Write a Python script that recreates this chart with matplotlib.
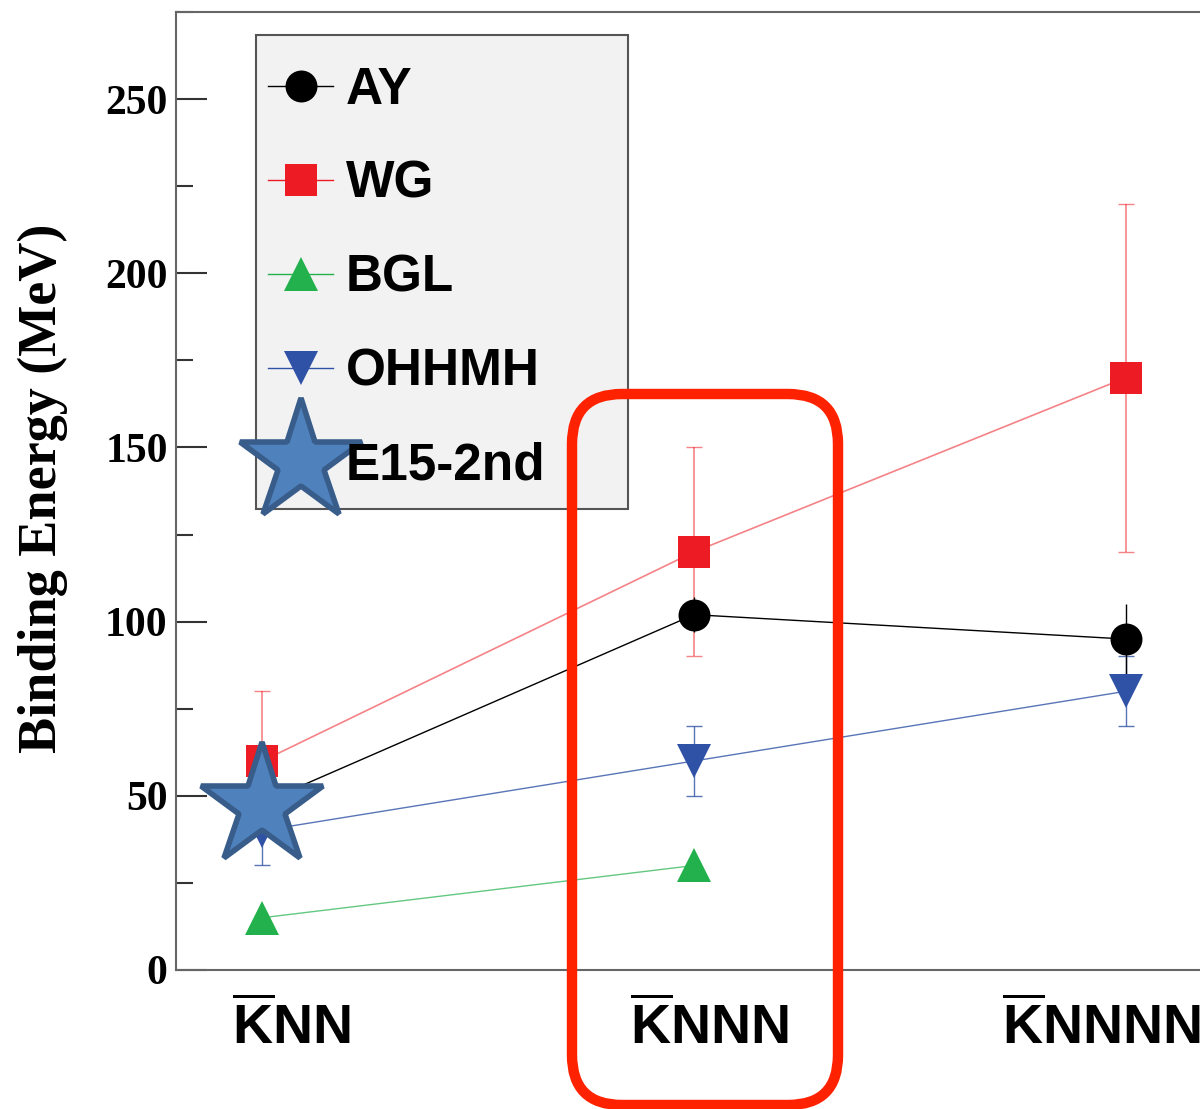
import numpy as np
import matplotlib
matplotlib.use("Agg")
import matplotlib.pyplot as plt
from matplotlib.lines import Line2D
from matplotlib.patches import FancyBboxPatch, Rectangle
from matplotlib.transforms import IdentityTransform, blended_transform_factory

plt.rcParams['mathtext.fontset'] = 'custom'
plt.rcParams['mathtext.bf'] = 'Liberation Sans:bold'
plt.rcParams['mathtext.rm'] = 'Liberation Sans'

# ---------------- data ----------------
categories = [r'$\overline{\mathbf{K}}\mathbf{NN}$',
              r'$\overline{\mathbf{K}}\mathbf{NNN}$',
              r'$\overline{\mathbf{K}}\mathbf{NNNN}$']
label_offsets = [0.068, 0.035, -0.056]  # label shift relative to category (data units)

ay = [48, 102, 95]
ay_err = [0, 5, 10]
wg = [60, 120, 170]
wg_err = [20, 30, 50]
bgl = [15, 30, np.nan]
ohhmh = [40, 60, 80]
ohhmh_err = [10, 10, 10]
e15 = [47]

yticks = [0, 50, 100, 150, 200, 250]
ylabel = 'Binding Energy (MeV)'
legend_labels = ['AY', 'WG', 'BGL', 'OHHMH', 'E15-2nd']

# ---------------- styles ----------------
c_ay = '#000000'
c_wg = '#ed1c24'
c_bgl = '#22b14c'
c_oh = '#2f52a6'
c_star = '#4f81bd'
c_star_edge = '#385d8a'

W, H = 1200, 1109
fig = plt.figure(figsize=(W / 100, H / 100), dpi=100)
ax = fig.add_axes([176 / W, (H - 970) / H, (1215 - 176) / W, (970 - 12) / H])

x = np.arange(len(categories))

ms = 23
ax.errorbar(x, ay, yerr=ay_err, color=c_ay, lw=1, marker='o', ms=ms, mew=0,
            elinewidth=1, capsize=6, zorder=5, alpha=1)
ax.plot(x, wg, color=c_wg, lw=1.2, alpha=0.55, zorder=4)
ax.errorbar(x, wg, yerr=wg_err, fmt='none', ecolor=c_wg, elinewidth=1.2,
            capsize=6, alpha=0.55, zorder=4)
ax.plot(x, wg, ls='none', marker='s', ms=23, mew=0, color=c_wg, zorder=6)
ax.plot(x, bgl, color=c_bgl, lw=1, alpha=0.7, zorder=4)
ax.plot(x, bgl, ls='none', marker='^', ms=25, mew=0, color=c_bgl, zorder=6)
ax.plot(x, ohhmh, color=c_oh, lw=1, alpha=0.8, zorder=4)
ax.errorbar(x, ohhmh, yerr=ohhmh_err, fmt='none', ecolor=c_oh, elinewidth=1,
            capsize=6, alpha=0.8, zorder=4)
ax.plot(x, ohhmh, ls='none', marker='v', ms=25, mew=0, color=c_oh, zorder=6)
ax.plot(x[:1], e15, ls='none', marker='*', ms=92, mfc=c_star, mec=c_star_edge,
        mew=4, zorder=10)

ax.set_ylim(0, 275)
ax.set_xlim(-0.2, 2.207)
ax.set_yticks(yticks)
ax.set_yticks([25, 75, 125, 175, 225, 275], minor=True)
ax.set_yticklabels([str(v) for v in yticks], fontfamily='Liberation Serif',
                   fontweight='bold', fontsize=30)
ax.tick_params(axis='y', which='major', direction='in', length=22, width=1.5,
               color='#333333', pad=6)
ax.tick_params(axis='y', which='minor', direction='in', length=12, width=1.5,
               color='#333333')
ax.set_xticks([])
for s in ax.spines.values():
    s.set_color('#666666')
    s.set_linewidth(1.5)

ax.set_ylabel(ylabel, fontfamily='Liberation Serif', fontweight='bold',
              fontsize=39)
ax.yaxis.set_label_coords(-0.104, 0.503)

trans = blended_transform_factory(ax.transData, ax.transAxes)
for xi, lab, off in zip(x, categories, label_offsets):
    ax.text(xi + off, -0.032, lab, transform=trans, ha='center', va='top',
            fontsize=40, color='black')

# legend frame (pixel coordinates)
frame = Rectangle((256, H - 509), 628 - 256, 509 - 35, transform=IdentityTransform(),
                  facecolor='#f2f2f2', edgecolor='#555555', linewidth=1.5,
                  zorder=7, clip_on=False)
ax.add_patch(frame)

handles = [
    Line2D([], [], color=c_ay, lw=1, marker='o', ms=ms, mew=0),
    Line2D([], [], color=c_wg, lw=1, marker='s', ms=23, mew=0),
    Line2D([], [], color=c_bgl, lw=1, marker='^', ms=25, mew=0),
    Line2D([], [], color=c_oh, lw=1, marker='v', ms=25, mew=0),
    Line2D([], [], ls='none', marker='*', ms=92, mfc=c_star, mec=c_star_edge, mew=4),
]
leg = ax.legend(handles, legend_labels, loc='upper left',
                bbox_to_anchor=(268 / W, (H - 66) / H),
                bbox_transform=fig.transFigure, frameon=False,
                prop={'family': 'Liberation Sans', 'weight': 'bold', 'size': 37},
                handlelength=1.27, handleheight=0.7, handletextpad=0.25,
                labelspacing=0.874, borderpad=0, borderaxespad=0)
leg.set_zorder(8)

# red rounded highlight box (pixel coordinates)
rect = FancyBboxPatch((572, H - 1105), 838 - 572, 1105 - 394,
                      boxstyle='round,pad=0,rounding_size=50',
                      transform=IdentityTransform(), fill=False,
                      edgecolor='#ff2200', linewidth=7.5, clip_on=False, zorder=20)
fig.patches.append(rect)

fig.savefig('out.png', dpi=100)
